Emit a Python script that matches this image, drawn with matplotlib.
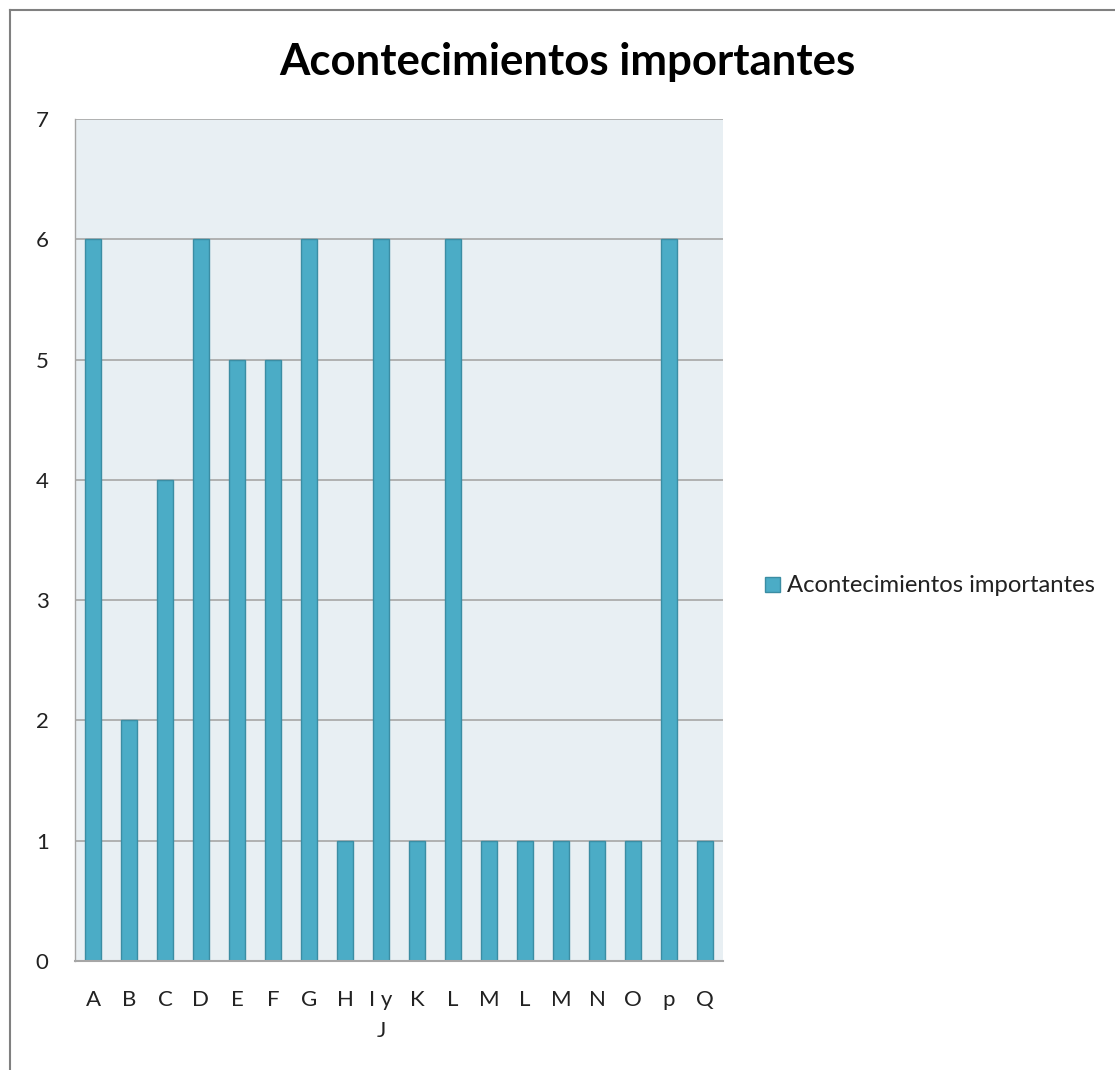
import matplotlib
matplotlib.use("Agg")
import matplotlib.pyplot as plt
from matplotlib.lines import Line2D
from matplotlib.patches import Rectangle

categories = ["A", "B", "C", "D", "E", "F", "G", "H", "I y\nJ", "K", "L", "M", "L", "M", "N", "O", "p", "Q"]
values = [6, 2, 4, 6, 5, 5, 6, 1, 6, 1, 6, 1, 1, 1, 1, 1, 6, 1]
series_name = "Acontecimientos importantes"
yticks = [0, 1, 2, 3, 4, 5, 6, 7]

plt.rcParams['font.family'] = ['Lato', 'DejaVu Sans']

W, H = 1115, 1070
fig = plt.figure(figsize=(W / 100, H / 100), dpi=100)
ax = fig.add_axes([75 / W, 1 - 961 / H, (723 - 75) / W, (961 - 119) / H])
ax.set_facecolor("#E8EFF3")

x = list(range(len(categories)))
ax.bar(x, values, width=0.42, color="#4BACC6", edgecolor="#3B8DA3", linewidth=1.0, zorder=3)

ax.set_xlim(-0.5, len(categories) - 0.5)
ax.set_ylim(0, 7)
ax.set_yticks(yticks)
ax.set_yticklabels([str(v) for v in yticks], fontsize=16, color="#222222")
ax.set_xticks(x)
ax.set_xticklabels(categories, fontsize=16, color="#222222", linespacing=1.65, va="top")
ax.tick_params(axis="y", length=0, pad=19)
ax.tick_params(axis="x", length=0, pad=21)
ax.grid(axis="y", color="#A6A6A6", linewidth=1.2, zorder=1)
ax.set_axisbelow(True)
for s in ["top", "right"]:
    ax.spines[s].set_visible(False)
ax.spines["left"].set_color("#A6A6A6")
ax.spines["bottom"].set_color("#A6A6A6")
ax.spines["bottom"].set_linewidth(1.5)
ax.spines["left"].set_linewidth(1.0)
ax.spines["bottom"].set_zorder(4)

fig.text(567 / W, 1 - 62 / H, series_name, ha="center", va="center",
         fontsize=31.5, fontweight="bold", color="#000000")

# legend
fig.patches.append(Rectangle((765 / W, 1 - 592 / H), 15 / W, 15 / H, transform=fig.transFigure,
                             facecolor="#4BACC6", edgecolor="#3B8DA3", linewidth=1.0))
fig.text(787 / W, 1 - 585 / H, series_name, ha="left", va="center", fontsize=17.2, color="#222222")

# outer border (left and top)
fig.lines.append(Line2D([9.5 / W, 9.5 / W], [0, 1 - 10 / H], transform=fig.transFigure, color="#808080", linewidth=1.5))
fig.lines.append(Line2D([9.5 / W, 1], [1 - 10 / H, 1 - 10 / H], transform=fig.transFigure, color="#808080", linewidth=1.5))

fig.savefig("out.png", dpi=100, facecolor="white")
